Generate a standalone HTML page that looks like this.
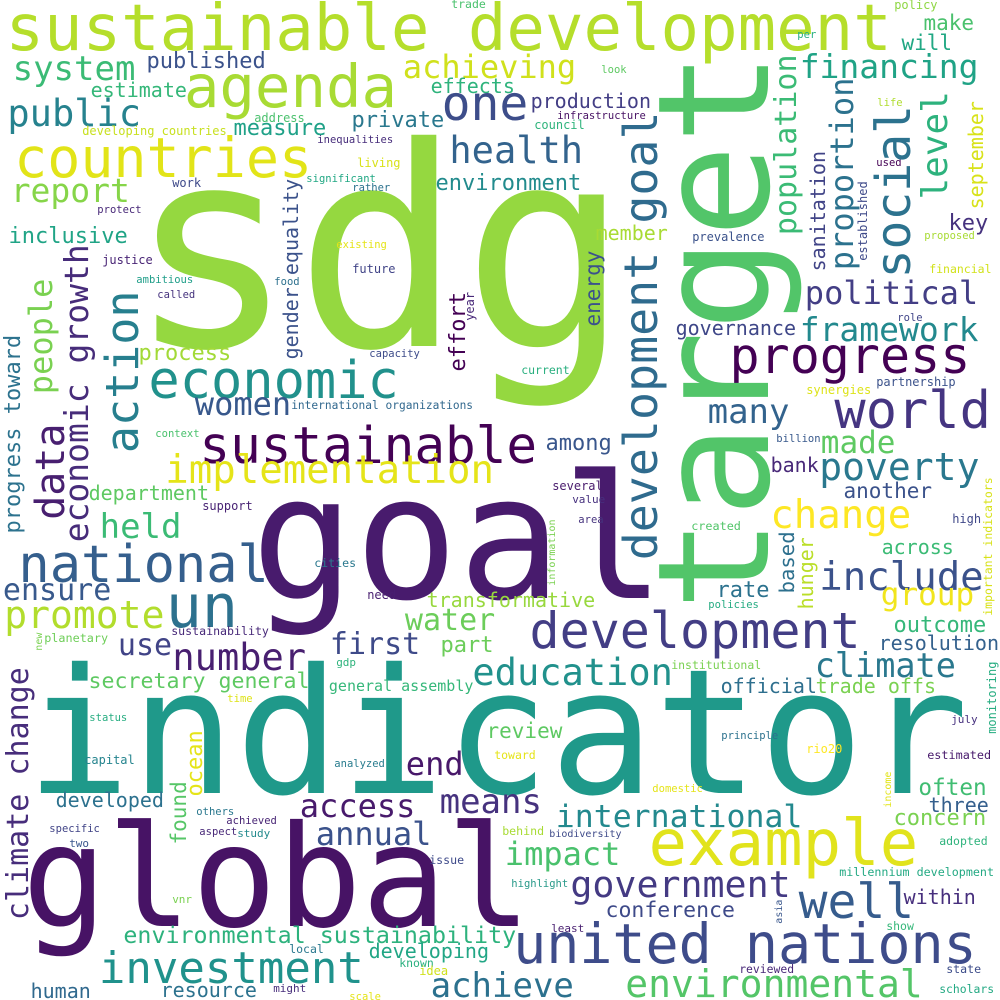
<!DOCTYPE html>
<html><head><meta charset="utf-8"><style>
html,body{margin:0;padding:0;background:#fff;}
svg{display:block;}
text{font-family:"DejaVu Sans Mono","Liberation Mono",monospace;}
</style></head><body>
<svg id="cloud" width="1000" height="1000" viewBox="0 0 1000 1000" xmlns="http://www.w3.org/2000/svg">
<rect width="1000" height="1000" fill="#ffffff"/>
</svg>
<script>
// word, font size (weight), ink-left x, baseline y, colour
const words = [
["sustainable development",64,10,50,"#b5de2b"],["sdg",278,147,346,"#95d840"],["goal",172,263,598,"#481b6d"],
["indicator",174,38,793,"#1f998a"],["global",141,32,926,"#471365"],["agenda",59,188,107,"#a8db34"],
["countries",55,18,177,"#e2e418"],["system",34,15,80,"#3bbb75"],["published",22,148,68,"#3b528b"],
["estimate",20,92,97,"#35b779"],["public",37,10,126,"#26828e"],["address",12,255,122,"#4ac16d"],
["developing countries",12,83,135,"#c8e020"],["measure",22,235,135,"#1fa188"],["private",22,353,127,"#2a788e"],
["inequalities",10.5,318,143,"#472d7b"],["report",33,13,202,"#86d549"],["work",12,173,187,"#3e4989"],
["significant",10.5,307,182,"#22a884"],["rather",10.5,353,191,"#2c728e"],["living",12,358,167,"#d8e219"],
["protect",10.5,98,213,"#482878"],["inclusive",22,10,243,"#20a486"],["justice",12,103,264,"#482475"],
["existing",10.5,337,248,"#e5e419"],["future",12,353,273,"#414487"],["ambitious",10.5,137,283,"#1f9e89"],
["called",10.5,158,298,"#46337e"],["food",10.5,275,285,"#2d708e"],["capacity",10.5,370,357,"#3e4c8a"],
["process",22,140,360,"#a2da37"],["economic",52,152,398,"#21918c"],["women",32,197,415,"#38588c"],
["international organizations",11.2,292,409,"#31688e"],["context",10.5,156,437,"#4ac16d"],
["sustainable",51,203,463,"#440154"],["implementation",39,168,483,"#e5e419"],["department",20,90,500,"#5ec962"],
["achieving",32,405,78,"#d0e11c"],["effects",20,432,93,"#2eb37c"],["one",48,445,120,"#3d4d8a"],
["health",37,452,163,"#33638d"],["environment",22,437,190,"#228b8d"],["production",20,532,108,"#433e85"],
["infrastructure",10.5,558,119,"#471164"],["council",12,535,129,"#2fb47c"],["look",10.5,602,73,"#5ec962"],
["policy",12,895,9,"#8fd744"],["per",10.5,798,38,"#26ad81"],["make",21,925,30,"#4ac16d"],
["will",21,903,50,"#22a884"],["financing",33,802,78,"#20a386"],["life",10.5,878,106,"#b0dd2f"],
["used",10.5,877,166,"#440154"],["key",22,950,230,"#46327e"],["proposed",10.5,925,239,"#a8db34"],
["financial",11.5,930,273,"#d2e21b"],["member",20,597,240,"#a8db34"],["prevalence",12,693,241,"#3b528b"],
["political",32,807,304,"#433e85"],["governance",20,677,335,"#3f4788"],["role",10.5,898,321,"#404588"],
["framework",33,802,341,"#23898e"],["progress",50,733,373,"#440154"],["current",11.5,522,374,"#29af7f"],
["partnership",12,877,386,"#3b528b"],["synergies",12,807,394,"#dde318"],["world",52,838,428,"#453581"],
["many",34,710,423,"#33638d"],["billion",10.5,777,442,"#38598c"],["made",31,823,453,"#5ec962"],
["among",22,547,450,"#39568c"],["bank",20,772,472,"#482878"],["poverty",38,822,480,"#2a788e"],
["another",21,845,498,"#3b528b"],["several",12,553,490,"#481a6c"],["value",11,573,503,"#46307e"],
["trade",11.5,452,8,"#4ac16d"],["held",34,102,538,"#3bbb75"],["support",12,203,510,"#482374"],
["national",52,22,582,"#355f8d"],["ensure",30,5,600,"#38598c"],["promote",38,7,628,"#b2dd2d"],
["un",60,170,627,"#2d718e"],["cities",11.6,315,567,"#2a788e"],["need",12,368,599,"#481f70"],
["transformative",20,428,607,"#98d83e"],["water",30,407,630,"#6ccd5a"],["sustainability",11.6,172,635,"#482979"],
["planetary",11.8,45,642,"#6ece58"],["use",30,120,655,"#414487"],["first",30,332,654,"#3e4a89"],
["part",22,442,652,"#6ccd5a"],["number",37,175,670,"#481f70"],["gdp",11,337,666,"#2eb37c"],
["secretary general",21.6,90,688,"#5ec962"],["general assembly",15,330,691,"#35b779"],
["education",37,475,685,"#21918c"],["time",10.5,228,702,"#dde318"],["status",10.5,90,721,"#27ad81"],
["end",32,408,775,"#48186a"],["capital",12,85,764,"#25848e"],["analyzed",10.5,335,767,"#287c8e"],
["developed",20,57,807,"#2c718e"],["access",32,302,817,"#481a6c"],["means",34,442,813,"#46327e"],
["others",10.5,197,815,"#2a788e"],["achieved",10.5,227,824,"#482575"],["specific",10.5,50,832,"#414487"],
["aspect",10.5,200,835,"#482878"],["study",11,238,837,"#238a8d"],["annual",32,318,845,"#3b528b"],
["two",11,70,847,"#39568c"],["issue",11.6,430,864,"#3e4a89"],["vnr",11,173,903,"#7ad151"],
["environmental sustainability",23.3,125,943,"#2db27d"],["local",11.5,290,953,"#2a788e"],
["developing",20,370,958,"#21a685"],["known",11.5,400,967,"#2ab07f"],["idea",12,420,975,"#d0e11c"],
["investment",44,102,983,"#20928c"],["human",20,32,998,"#30698e"],["resource",20,162,997,"#2c728e"],
["might",11,274,992,"#472d7b"],["scale",10.5,350,1000,"#e5e419"],["achieve",34,433,997,"#2c718e"],
["change",39,773,528,"#fde725"],["high",12,953,523,"#3f4788"],["area",10.5,579,523,"#46337e"],
["created",11.8,692,530,"#52c569"],["across",20,883,554,"#3bbb75"],["include",39,822,590,"#3b528b"],
["group",31,883,605,"#f1e51d"],["rate",22,718,597,"#2c728e"],["policies",10.5,709,608,"#25ab82"],
["development",50,533,648,"#433e85"],["outcome",22,895,632,"#35b779"],["resolution",20,880,650,"#34618d"],
["climate",33.5,817,677,"#2a788e"],["institutional",11.5,672,669,"#7ad151"],["official",20,722,693,"#2e6f8e"],
["trade offs",20,817,693,"#7ad151"],["review",21,488,738,"#5ec962"],["july",11,952,723,"#46307e"],
["principle",10.5,722,739,"#2c728e"],["toward",11.5,495,759,"#e5e419"],["rio20",12,807,753,"#fde725"],
["estimated",11.8,928,759,"#481a6c"],["domestic",10.5,653,792,"#e5e419"],["often",22.7,920,795,"#40bd72"],
["three",20,930,812,"#355f8d"],["international",31.5,558,827,"#23898e"],["concern",22,895,825,"#7ad151"],
["behind",11.6,503,835,"#a8db34"],["biodiversity",10,550,837,"#3e4a89"],["example",64,653,865,"#e1e31c"],
["adopted",11.5,940,845,"#2eb37c"],["impact",32,507,865,"#4ac16d"],
["millennium development",11.7,840,876,"#23a983"],["highlight",10.5,512,887,"#2a9a8a"],
["government",36.6,573,897,"#443a83"],["well",48,802,918,"#365c8d"],["within",20,905,904,"#472f7d"],
["conference",21.5,607,917,"#3e4a89"],["least",11,552,932,"#481f70"],["show",11.5,887,930,"#35b779"],
["united nations",55,517,963,"#3e4c8a"],["reviewed",11.4,740,973,"#482878"],["state",11.6,947,973,"#3d4d8a"],
["environmental",38,628,997,"#54c568"],["scholars",11.4,940,993,"#23a983"]
];
// vertical words: word, font size, baseline x, ink-bottom y, colour
const vwords = [
["target",155,768,600,"#52c569"],["development goal",46.6,657,557,"#2f6b8e"],
["population",30,796,233,"#3bbb75"],["sanitation",20,825,270,"#414487"],["proportion",32,853,268,"#2c728e"],
["established",12,867,260,"#3e4989"],["social",48,910,275,"#2c728e"],["level",36,947,197,"#2db27d"],
["september",20,983,208,"#d8e219"],["energy",21,600,325,"#3b528b"],
["important indicators",11.5,992,615,"#d8e219"],["gender equality",20,298,358,"#3b528b"],
["effort",22,465,370,"#440154"],["year",12,474,320,"#482878"],["action",45,138,450,"#277f8e"],
["economic growth",33,88,540,"#472c7a"],["people",32,52,392,"#7ad151"],
["progress toward",22,20,532,"#2c728e"],["data",40,64,517,"#481f70"],["ocean",22,202,795,"#e5e419"],
["found",21,186,843,"#56c667"],["climate change",30,28,918,"#472d7b"],["new",10,42,650,"#7ad151"],
["information",10,555,585,"#7ad151"],["based",20.6,794,592,"#2d708e"],["hunger",20,813,608,"#bade28"],
["monitoring",12,996,733,"#26ad81"],["income",10,891,807,"#e2e418"],["asia",10,782,923,"#39568c"]
];
const svg = document.getElementById('cloud');
const NS = 'http://www.w3.org/2000/svg';
function slug(s){return s.replace(/\s+/g,'-');}
for (const w of words) {
  const el = document.createElementNS(NS,'text');
  el.setAttribute('x', (w[2] - 0.07*w[1]).toFixed(1));
  el.setAttribute('y', w[3]);
  el.setAttribute('font-size', w[1]);
  el.setAttribute('fill', w[4]);
  
  
  el.textContent = w[0];
  svg.appendChild(el);
}
for (const w of vwords) {
  const el = document.createElementNS(NS,'text');
  el.setAttribute('transform', 'translate(' + w[2] + ',' + (w[3] + 0.07*w[1]).toFixed(1) + ') rotate(-90)');
  el.setAttribute('x', 0);
  el.setAttribute('y', 0);
  el.setAttribute('font-size', w[1]);
  el.setAttribute('fill', w[4]);
  
  
  el.textContent = w[0];
  svg.appendChild(el);
}
</script>
</body></html>
